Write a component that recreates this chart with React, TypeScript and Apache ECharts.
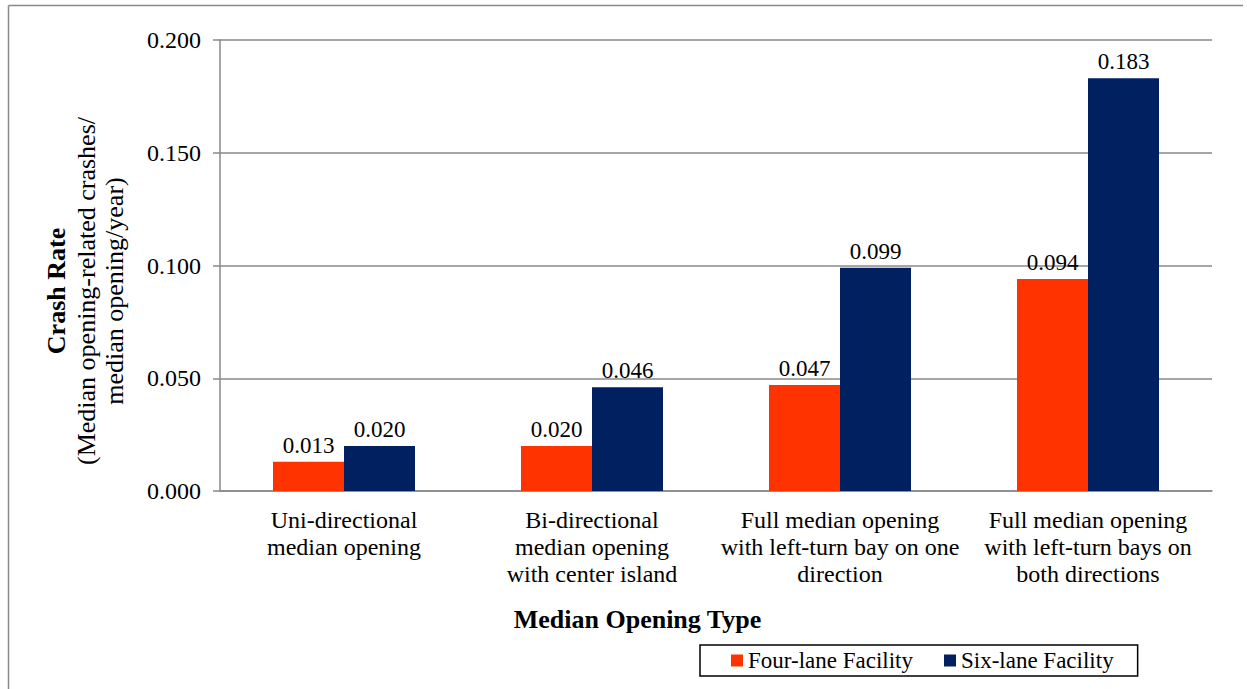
import React, { useEffect, useRef } from "react";
import * as echarts from "echarts";

const categories = [
  "Uni-directional\nmedian opening",
  "Bi-directional\nmedian opening\nwith center island",
  "Full median opening\nwith left-turn bay on one\ndirection",
  "Full median opening\nwith left-turn bays on\nboth directions",
];
const fourLane = [0.013, 0.02, 0.047, 0.094];
const sixLane = [0.02, 0.046, 0.099, 0.183];
const seriesNames = ["Four-lane Facility", "Six-lane Facility"];
const yTitleLines = ["Crash Rate", "(Median opening-related crashes/", "median opening/year)"];
const xTitle = "Median Opening Type";

const FONT = "Liberation Serif";
const GRAY = "#898989";

export default function App() {
  const ref = useRef<HTMLDivElement>(null);
  useEffect(() => {
    const chart = echarts.init(ref.current!, null, { renderer: "svg" });
    const labelCfg = {
      show: true,
      position: "top",
      distance: 5,
      color: "#000",
      fontFamily: FONT,
      fontSize: 23,
      formatter: (p: any) => Number(p.value).toFixed(3),
    };
    chart.setOption({
      animation: false,
      backgroundColor: "#fff",
      textStyle: { fontFamily: FONT },
      grid: { left: 220, right: 35, top: 40, bottom: 198, containLabel: false },
      xAxis: {
        type: "category",
        data: categories,
        axisLine: { show: true, lineStyle: { color: GRAY, width: 1.5 } },
        axisTick: { show: false },
        axisLabel: {
          color: "#000",
          fontFamily: FONT,
          fontSize: 24,
          lineHeight: 27,
          margin: 15,
          interval: 0,
        },
      },
      yAxis: {
        type: "value",
        min: 0,
        max: 0.2,
        interval: 0.05,
        axisLine: { show: true, lineStyle: { color: GRAY, width: 1.5 } },
        axisTick: { show: true, length: 7, lineStyle: { color: GRAY, width: 1.5 } },
        splitLine: { show: true, lineStyle: { color: GRAY, width: 1.5 } },
        axisLabel: {
          color: "#000",
          fontFamily: FONT,
          fontSize: 24,
          margin: 19,
          formatter: (v: number) => v.toFixed(3),
        },
      },
      legend: {
        left: 700,
        top: 645,
        orient: "horizontal",
        itemWidth: 12,
        itemHeight: 12,
        itemGap: 31,
        icon: "rect",
        borderColor: "#000",
        borderWidth: 1.5,
        padding: [4, 24, 4, 31],
        textStyle: { color: "#000", fontFamily: FONT, fontSize: 23 },
        data: seriesNames,
      },
      series: [
        {
          name: seriesNames[0],
          type: "bar",
          data: fourLane,
          barWidth: 71,
          barGap: "0%",
          itemStyle: { color: "#FF3300" },
          label: labelCfg,
        },
        {
          name: seriesNames[1],
          type: "bar",
          data: sixLane,
          barWidth: 71,
          barGap: "0%",
          itemStyle: { color: "#002060" },
          label: labelCfg,
        },
      ],
      graphic: [
        {
          type: "line",
          shape: { x1: 8.5, y1: 5.5, x2: 1243, y2: 5.5 },
          style: { stroke: GRAY, lineWidth: 1.5 },
        },
        {
          type: "line",
          shape: { x1: 8.5, y1: 5.5, x2: 8.5, y2: 689 },
          style: { stroke: GRAY, lineWidth: 1.5 },
        },
        {
          type: "text",
          x: 84,
          y: 291,
          rotation: Math.PI / 2,
          style: {
            text:
              "{b|" + yTitleLines[0] + "}\n{n|" + yTitleLines[1] + "}\n{n|" + yTitleLines[2] + "}",
            align: "center",
            verticalAlign: "middle",
            fill: "#000",
            rich: {
              b: { fontFamily: FONT, fontSize: 26, fontWeight: "bold", lineHeight: 32, align: "center" },
              n: { fontFamily: FONT, fontSize: 26, lineHeight: 28, align: "center" },
            },
          },
        },
        {
          type: "text",
          x: 637.5,
          y: 619,
          style: {
            text: xTitle,
            align: "center",
            verticalAlign: "middle",
            fill: "#000",
            fontFamily: FONT,
            fontSize: 26,
            fontWeight: "bold",
          },
        },
      ],
    });
    return () => chart.dispose();
  }, []);
  return (
    <div
      ref={ref}
      style={{ position: "fixed", left: 0, top: 0, width: 1247, height: 689 }}
    />
  );
}
